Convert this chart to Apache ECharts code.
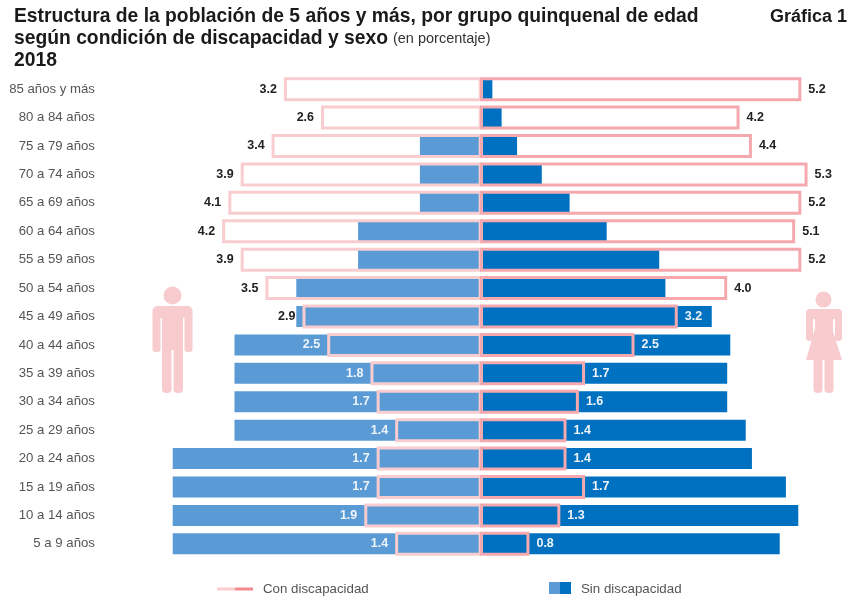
<!DOCTYPE html>
<html>
<head>
<meta charset="utf-8">
<title>Estructura de la población</title>
<script src="https://cdn.jsdelivr.net/npm/echarts@6/dist/echarts.min.js"></script>
<style>
  html, body { margin: 0; padding: 0; background: #fff; }
  #chart { width: 854px; height: 597px; }
</style>
</head>
<body>
<div id="chart"></div>
<script>
var grupos = ['85 años y más', '80 a 84 años', '75 a 79 años', '70 a 74 años', '65 a 69 años', '60 a 64 años',
  '55 a 59 años', '50 a 54 años', '45 a 49 años', '40 a 44 años', '35 a 39 años', '30 a 34 años',
  '25 a 29 años', '20 a 24 años', '15 a 19 años', '10 a 14 años', '5 a 9 años'];
var conHombres = [3.2, 2.6, 3.4, 3.9, 4.1, 4.2, 3.9, 3.5, 2.9, 2.5, 1.8, 1.7, 1.4, 1.7, 1.7, 1.9, 1.4];
var conMujeres = [5.2, 4.2, 4.4, 5.3, 5.2, 5.1, 5.2, 4.0, 3.2, 2.5, 1.7, 1.6, 1.4, 1.4, 1.7, 1.3, 0.8];
var sinHombres = [0, 0, 1.0, 1.0, 1.0, 2.0, 2.0, 3.0, 3.0, 4.0, 4.0, 4.0, 4.0, 5.0, 5.0, 5.0, 5.0];
var sinMujeres = [0.2, 0.35, 0.6, 1.0, 1.45, 2.05, 2.9, 3.0, 3.75, 4.05, 4.0, 4.0, 4.3, 4.4, 4.95, 5.15, 4.85];

var fuente = '"Liberation Sans", Arial, sans-serif';
var rosaClaro = '#f9cdd0';
var rosa = '#f5a9ae';
var azulClaro = '#5b9bd5';
var azul = '#0070c0';
var figura = '#f8cccf';

function negativos(arr) {
  return arr.map(function (v) { return -v; });
}

// etiqueta blanca si cae sobre la barra azul, oscura si cae sobre el blanco
function conDatos(con, sin, signo) {
  return con.map(function (v, i) {
    return {
      value: signo * v,
      label: { color: sin[i] - v > 0.3 ? '#eef4fa' : '#222' }
    };
  });
}

function barraSin(datos, color, eje) {
  return {
    type: 'bar',
    data: datos,
    xAxisIndex: eje,
    yAxisIndex: eje * 2,
    barWidth: 21,
    silent: true,
    itemStyle: { color: color }
  };
}

// el borde queda dentro de la barra, por eso va en su propio eje y mas ancha
function barraCon(datos, borde, pos, eje) {
  return {
    type: 'bar',
    data: datos,
    xAxisIndex: eje,
    yAxisIndex: eje * 2 + 1,
    barWidth: 24,
    silent: true,
    z: 3 + eje,
    itemStyle: { color: 'rgba(0,0,0,0)', borderColor: borde, borderWidth: 3 },
    label: {
      show: true,
      position: pos,
      distance: 7,
      fontFamily: fuente,
      fontWeight: 'bold',
      fontSize: 12.5,
      formatter: function (p) { return Math.abs(p.value).toFixed(1); }
    }
  };
}

function ejeY(grid, visible) {
  return {
    type: 'category',
    gridIndex: grid,
    inverse: true,
    data: grupos,
    show: visible,
    axisLine: { show: false },
    axisTick: { show: false },
    axisLabel: { margin: 16, fontFamily: fuente, fontSize: 13.2, color: '#555' }
  };
}

function rect(x, y, w, h, r, color) {
  return { type: 'rect', shape: { x: x, y: y, width: w, height: h, r: r }, style: { fill: color } };
}

function hombre() {
  return [
    { type: 'circle', shape: { cx: 172.5, cy: 295.5, r: 9 }, style: { fill: figura } },
    rect(152.5, 306, 40, 12, 5, figura),
    rect(152.5, 310, 8, 42, 3, figura),
    rect(184.5, 310, 8, 42, 3, figura),
    rect(162, 310, 21, 40, 0, figura),
    rect(162, 345, 9.5, 48, 4, figura),
    rect(173.5, 345, 9.5, 48, 4, figura)
  ];
}

function mujer() {
  return [
    { type: 'circle', shape: { cx: 823.5, cy: 299.5, r: 8 }, style: { fill: figura } },
    rect(806, 309, 36, 10, 4, figura),
    rect(806, 312, 7, 29, 3, figura),
    rect(835, 312, 7, 29, 3, figura),
    rect(815, 312, 18, 20, 0, figura),
    {
      type: 'polygon',
      shape: { points: [[816, 325], [831, 325], [842, 360], [806, 360]] },
      style: { fill: figura }
    },
    rect(813.5, 355, 9, 38, 4, figura),
    rect(824.5, 355, 9, 38, 4, figura)
  ];
}

function leyenda() {
  var estilo = { fontFamily: fuente, fontSize: 13.3, fill: '#555', verticalAlign: 'middle' };
  return [
    rect(217, 587.5, 18, 3, 0, rosaClaro),
    rect(235, 587.5, 18, 3, 0, '#f4898f'),
    { type: 'text', x: 263, y: 589, style: Object.assign({ text: 'Con discapacidad' }, estilo) },
    rect(549, 582, 11, 12, 0, azulClaro),
    rect(560, 582, 11, 12, 0, azul),
    { type: 'text', x: 581, y: 589, style: Object.assign({ text: 'Sin discapacidad' }, estilo) }
  ];
}

var chart = echarts.init(document.getElementById('chart'));

var option = {
  backgroundColor: '#fff',
  animation: false,
  title: [{
    left: 9,
    top: 1,
    text: '{b|Estructura de la población de 5 años y más, por grupo quinquenal de edad}\n' +
      '{b|según condición de discapacidad y sexo} {n|(en porcentaje)}\n{b|2018}',
    textStyle: {
      rich: {
        b: { fontFamily: fuente, fontWeight: 'bold', fontSize: 19.3, lineHeight: 22, color: '#1a1a1a' },
        n: { fontFamily: fuente, fontWeight: 'normal', fontSize: 14.5, lineHeight: 22, color: '#333' }
      }
    }
  }, {
    left: 765,
    top: 1,
    text: 'Gráfica 1',
    textStyle: { fontFamily: fuente, fontWeight: 'bold', fontSize: 18, lineHeight: 22, color: '#1a1a1a' }
  }],
  // dos rejillas: los bordes del centro se enciman como en el original
  grid: [
    { left: 110.9, width: 370.8, top: 75, bottom: 39 },
    { left: 480, width: 370.8, top: 75, bottom: 39 }
  ],
  xAxis: [
    { type: 'value', gridIndex: 0, min: -6, max: 0, interval: 1, show: false },
    { type: 'value', gridIndex: 1, min: 0, max: 6, interval: 1, show: false }
  ],
  yAxis: [ejeY(0, true), ejeY(0, false), ejeY(1, false), ejeY(1, false)],
  series: [
    barraSin(negativos(sinHombres), azulClaro, 0),
    barraSin(sinMujeres, azul, 1),
    barraCon(conDatos(conHombres, sinHombres, -1), rosaClaro, 'left', 0),
    barraCon(conDatos(conMujeres, sinMujeres, 1), rosa, 'right', 1)
  ],
  graphic: { elements: hombre().concat(mujer(), leyenda()) }
};

chart.setOption(option);
</script>
</body>
</html>
